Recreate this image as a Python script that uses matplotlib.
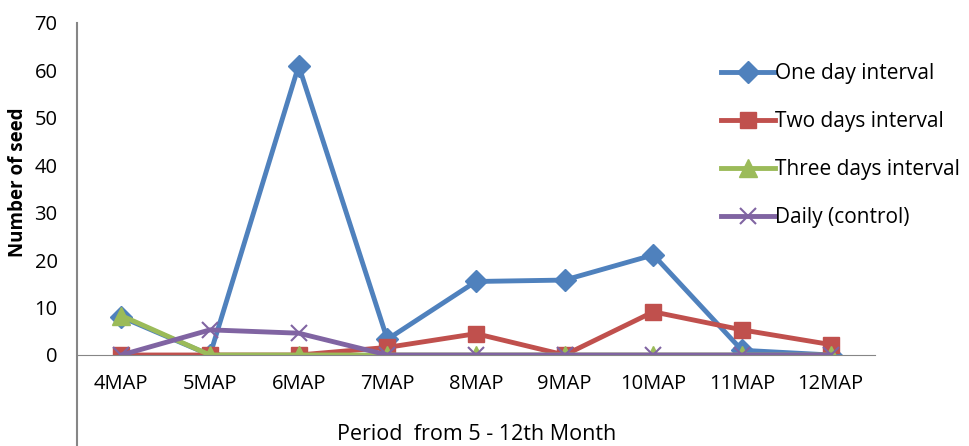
# Seed count per month of age for each watering interval

import matplotlib.pyplot as plt

plt.rcParams["font.family"] = ["Open Sans", "DejaVu Sans"]

periods = ["4MAP", "5MAP", "6MAP", "7MAP", "8MAP", "9MAP", "10MAP", "11MAP", "12MAP"]
one_day = [8, 0, 61, 3.3, 15.5, 15.8, 21.1, 1, 0]
two_days = [0, 0, 0, 1.6, 4.5, 0, 9.1, 5.3, 2.2]
three_days = [8.3, 0, 0, 0, 0, 0, 0, 0, 0]
daily = [0, 5.3, 4.6, 0, 0, 0, 0, 0, 0]

fig = plt.figure(figsize=(9.69, 4.46), dpi=100)
ax = fig.add_axes([77 / 969, 91 / 446, 798 / 969, 332 / 446])

x = range(len(periods))
ax.plot(x, one_day, color="#4F81BD", lw=3.5, marker="D", ms=11, label="One day interval")
ax.plot(x, two_days, color="#C0504D", lw=3.5, marker="s", ms=12, label="Two days interval")
ax.plot(x, three_days, color="#9BBB59", lw=3.5, marker="^", ms=13, label="Three days interval")
ax.plot(x, daily, color="#8064A2", lw=3.5, marker="x", ms=12, mew=1.5, label="Daily (control)")

ax.set_xlim(-0.5, len(periods) - 0.5)
ax.set_ylim(0, 70)
ax.set_yticks(range(0, 71, 10))
ax.set_xticks(list(x))
ax.set_xticklabels(periods)
ax.tick_params(length=0, labelsize=14.5, colors="black")
ax.tick_params(axis="y", pad=14)
ax.tick_params(axis="x", pad=14)

for side in ["top", "right"]:
    ax.spines[side].set_visible(False)
ax.spines["bottom"].set_color("#868686")
ax.spines["left"].set_visible(False)
# vertical axis line runs down through the category label area
ax.axvline(-0.5, ymin=-91 / 332, ymax=1, color="#868686", lw=1.5, clip_on=False)

ax.set_ylabel("Number of seed", fontsize=13.5, fontweight="bold")
ax.yaxis.set_label_coords(-0.062, 0.52)
fig.text(0.492, 0.025, "Period  from 5 - 12th Month", fontsize=15.5, ha="center", va="center")

ax.legend(loc="upper left", bbox_to_anchor=(0.796, 0.905), frameon=False, fontsize=15,
          handlelength=2.6, handletextpad=0.0, labelspacing=1.3, borderaxespad=0)

fig.savefig("out.png", dpi=100)
